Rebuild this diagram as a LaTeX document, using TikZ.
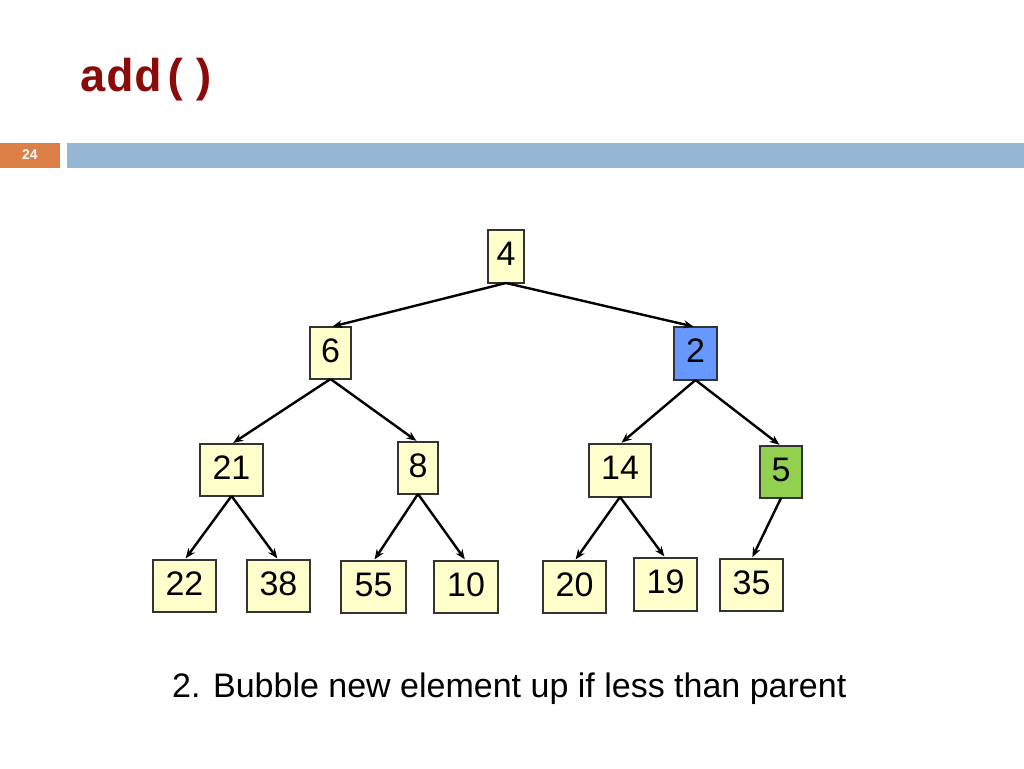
\documentclass[tikz,border=0pt]{standalone}
\usepackage{fontspec}
\setmainfont{Liberation Sans}
\newfontfamily\cour{Liberation Mono}
\usetikzlibrary{arrows.meta}
\begin{document}
\begin{tikzpicture}[x=1pt,y=-1pt,
  num/.style={font=\fontsize{34}{34}\selectfont,text=black},
  ar/.style={-{Stealth[length=10pt,width=8pt]},line width=2.4pt,shorten >=2pt}]
\definecolor{yellowbox}{HTML}{FFFFCC}
\definecolor{bluebox}{HTML}{6699FF}
\definecolor{greenbox}{HTML}{92D050}
\definecolor{titlered}{HTML}{8B0A0A}
\definecolor{barblue}{HTML}{94B6D2}
\definecolor{barorange}{HTML}{DD8047}
\useasboundingbox (0,0) rectangle (1024,768);
\fill[white] (0,0) rectangle (1024,768);
\node[anchor=west,text=titlered,font=\cour\bfseries\fontsize{46}{46}\selectfont,inner sep=0pt] (title) at (79,80) {add()};
\fill[barorange] (0,143) rectangle (60,168);
\fill[barblue] (67,143) rectangle (1024,168);
\node[text=white,font=\bfseries\fontsize{14}{14}\selectfont] (pg) at (30,155) {24};
\foreach \n/\xa/\ya/\xb/\yb/\t/\c in {
  a/488/230/524/283/4/yellowbox,
  b/310/327/351/379/6/yellowbox,
  c/674/327/717/380/2/bluebox,
  d/200/444/263/496/21/yellowbox,
  e/398/442/438/494/8/yellowbox,
  f/589/444/651/497/14/yellowbox,
  g/760/446/802/498/5/greenbox,
  h/153/560/216/612/22/yellowbox,
  i/247/560/310/612/38/yellowbox,
  j/341/561/406/613/55/yellowbox,
  k/434/561/498/613/10/yellowbox,
  l/543/561/606/613/20/yellowbox,
  m/634/558/697/611/19/yellowbox,
  n/720/559/783/611/35/yellowbox}{
  \draw[draw=black!80,line width=1.2pt,fill=\c] (\xa,\ya) rectangle (\xb,\yb);
  \coordinate (\n) at ({(\xa+\xb)/2},\ya);
  \coordinate (\n b) at ({(\xa+\xb)/2},\yb);
  \node[num,anchor=base] (\n t) at ({(\xa+\xb)/2},{\ya+35}) {\t};
}
\draw[ar] (ab) -- (b);
\draw[ar] (ab) -- (c);
\draw[ar] (bb) -- (d);
\draw[ar] (bb) -- (e);
\draw[ar] (cb) -- (f);
\draw[ar] (cb) -- (g);
\draw[ar] (db) -- (h);
\draw[ar] (db) -- (i);
\draw[ar] (eb) -- (j);
\draw[ar] (eb) -- (k);
\draw[ar] (fb) -- (l);
\draw[ar] (fb) -- (m);
\draw[ar] (gb) -- (n);
\node[anchor=base west,font=\fontsize{34}{34}\selectfont,inner sep=0pt] (cap) at (172,697) {2. Bubble new element up if less than parent};
\end{tikzpicture}
\end{document}
